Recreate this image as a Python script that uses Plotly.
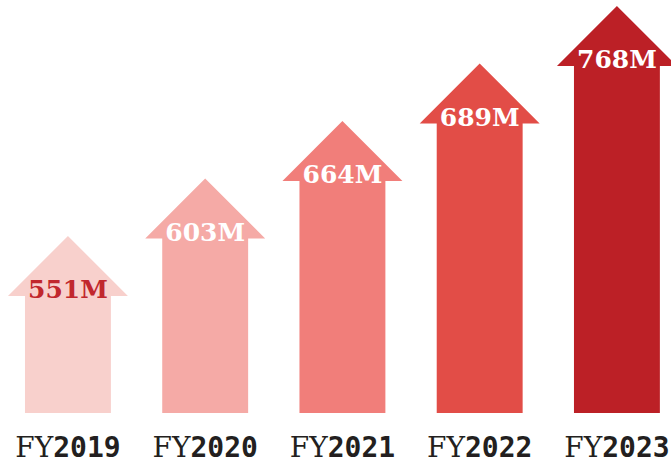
import plotly.graph_objects as go

years = ["2019", "2020", "2021", "2022", "2023"]
revenue_m = [551, 603, 664, 689, 768]
arrow_colors = ["#f8d0cc", "#f5aaa6", "#f17e7a", "#e24d47", "#bc2026"]
value_text_colors = ["#c1272d", "#ffffff", "#ffffff", "#ffffff", "#ffffff"]

# geometry (pixel-like units on y; category units on x)
SHAFT_HALF = 0.313
HEAD_HALF = 0.437
HEAD_H = 60
BASE_TIP = 177
STEP = 57.5

ranks = [sorted(revenue_m).index(v) for v in revenue_m]

fig = go.Figure()
for i, (v, c) in enumerate(zip(revenue_m, arrow_colors)):
    tip = BASE_TIP + STEP * ranks[i]
    hb = tip - HEAD_H
    xs = [i - SHAFT_HALF, i - SHAFT_HALF, i - HEAD_HALF, i, i + HEAD_HALF, i + SHAFT_HALF, i + SHAFT_HALF, i - SHAFT_HALF]
    ys = [0, hb, hb, tip, hb, hb, 0, 0]
    fig.add_trace(go.Scatter(x=xs, y=ys, fill="toself", fillcolor=c, mode="lines",
                             line=dict(width=0, color=c), hoverinfo="skip", showlegend=False))
    fig.add_trace(go.Scatter(x=[i], y=[hb + 4], mode="text", text=[f"{v}M"],
                             textposition="middle center",
                             textfont=dict(family="DejaVu Serif", size=25, color=value_text_colors[i], weight="bold"),
                             hoverinfo="skip", showlegend=False, cliponaxis=False))

ticktext = [f"<span style='font-family:DejaVu Serif;font-weight:normal'>FY</span><span style='font-family:DejaVu Sans Mono;font-weight:bold'>{y}</span>" for y in years]

fig.update_layout(
    width=671, height=464,
    margin=dict(l=0, r=0, t=0, b=51),
    paper_bgcolor="white", plot_bgcolor="white",
    xaxis=dict(range=[-0.495, 4.394], tickmode="array", tickvals=list(range(5)), ticktext=ticktext,
               showgrid=False, zeroline=False, showline=False, ticks="",
               tickfont=dict(size=28, color="#231f20", family="DejaVu Sans Mono"), ticklabelstandoff=15),
    yaxis=dict(range=[0, 413], visible=False, showgrid=False, zeroline=False),
)

fig.write_html("out.html", config={"displayModeBar": False},
               post_script="document.body.style.margin='0';document.body.style.overflow='hidden';")
